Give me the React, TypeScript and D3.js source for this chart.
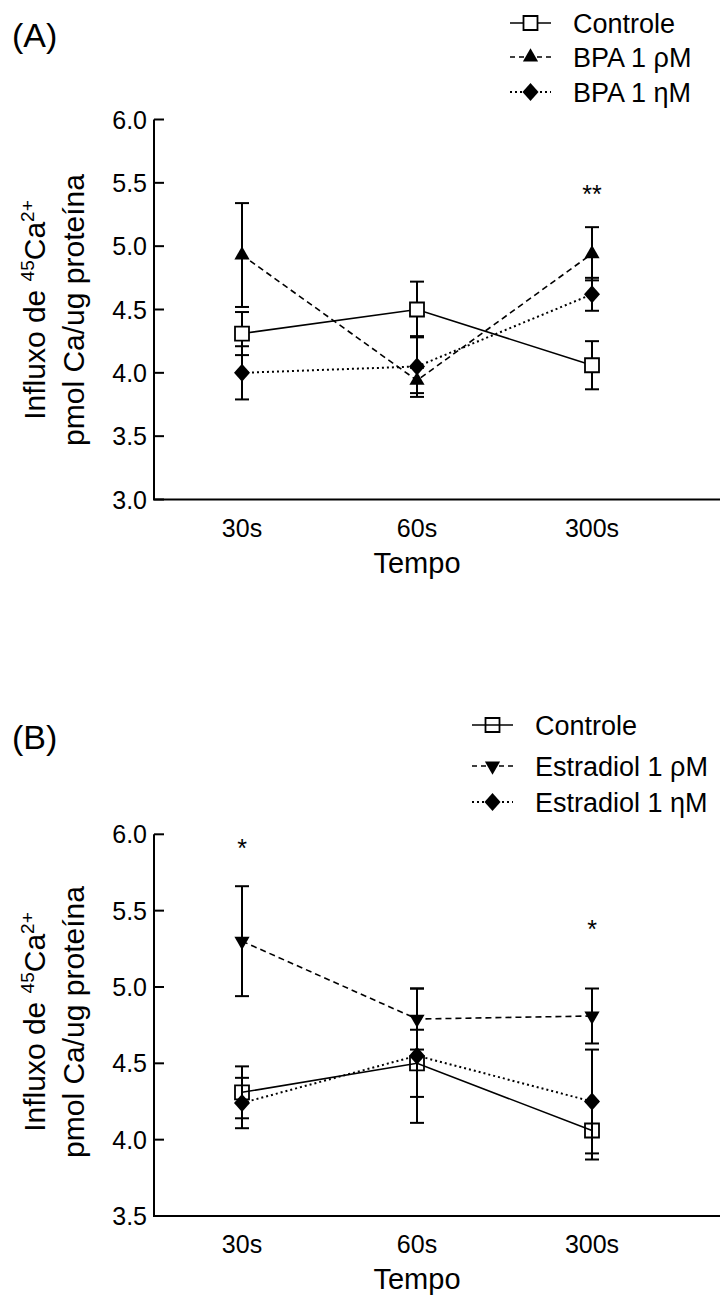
import React from "react";
import * as d3 from "d3";

const tempos = ["30s", "60s", "300s"];

const controleMean = [4.31, 4.5, 4.06];
const controleSem = [0.17, 0.22, 0.19];
const bpaPmMean = [4.93, 3.94, 4.94];
const bpaPmSem = [0.41, 0.1, 0.21];
const bpaNmMean = [4.0, 4.05, 4.62];
const bpaNmSem = [0.21, 0.24, 0.13];
const e2PmMean = [5.3, 4.79, 4.81];
const e2PmSem = [0.36, 0.2, 0.18];
const e2NmMean = [4.24, 4.55, 4.25];
const e2NmSem = [0.165, 0.44, 0.34];

const yTicksA = [3.0, 3.5, 4.0, 4.5, 5.0, 5.5, 6.0];
const yTicksB = [3.5, 4.0, 4.5, 5.0, 5.5, 6.0];
const starsA = ["", "", "**"];
const starsAt = [0, 0, 5.34];
const starsB = ["*", "", "*"];
const starsBt = [5.85, 0, 5.32];

const FONT = "'Liberation Sans', Arial, sans-serif";

type Marker = "square" | "up" | "down" | "diamond";

interface Series {
  name: string;
  mean: number[];
  sem: number[];
  marker: Marker;
  dash?: string;
}

const markerPath = (m: Marker) => {
  if (m === "square") return d3.symbol(d3.symbolSquare, 196)()!;
  if (m === "up" || m === "down") return d3.symbol(d3.symbolTriangle, 100)()!;
  return "M0,-9L8,0L0,9L-8,0Z";
};

function Mark({ m, x, y, fill }: { m: Marker; x: number; y: number; fill: string }) {
  const rot = m === "down" ? " rotate(180)" : "";
  return (
    <path
      d={markerPath(m)}
      transform={`translate(${x},${y})${rot}`}
      fill={m === "square" ? fill : "#000"}
      stroke="#000"
      strokeWidth={m === "square" ? 1.8 : 0}
    />
  );
}

interface PanelProps {
  label: string;
  series: Series[];
  yTicks: number[];
  yRange: [number, number];
  stars: string[];
  starVals: number[];
  squareFill: string;
  legendX: number;
  legendYs: number[];
  throughSquare: boolean;
  ylabelY: number;
  labelY: number;
}

function Panel(p: PanelProps) {
  const x = d3.scalePoint<string>().domain(tempos).range([242, 592]);
  const y = d3
    .scaleLinear()
    .domain([p.yTicks[0], p.yTicks[p.yTicks.length - 1]])
    .range(p.yRange);
  const axisX = 154;
  const bottom = p.yRange[0];
  const top = p.yRange[1];
  const line = d3
    .line<number>()
    .x((_, i) => x(tempos[i])!)
    .y(d => y(d));

  return (
    <g>
      <text x={12} y={p.labelY} fontSize={34} fontFamily={FONT}>
        {p.label}
      </text>

      {/* axes */}
      <line x1={axisX} x2={axisX} y1={top} y2={bottom} stroke="#000" strokeWidth={2} />
      <line x1={axisX - 1} x2={720} y1={bottom} y2={bottom} stroke="#000" strokeWidth={2} />
      {p.yTicks.map(t => (
        <g key={t}>
          <line x1={axisX} x2={axisX + 10} y1={y(t)} y2={y(t)} stroke="#000" strokeWidth={2} />
          <text
            x={147}
            y={y(t)}
            dy="0.36em"
            textAnchor="end"
            fontSize={25}
            fontFamily={FONT}
          >
            {t.toFixed(1)}
          </text>
        </g>
      ))}
      {tempos.map(t => (
        <text
          key={t}
          x={x(t)}
          y={bottom + 37}
          textAnchor="middle"
          fontSize={25}
          fontFamily={FONT}
        >
          {t}
        </text>
      ))}
      <text x={417} y={bottom + 73} textAnchor="middle" fontSize={29} fontFamily={FONT}>
        Tempo
      </text>

      {/* y label */}
      <g transform={`translate(0,${p.ylabelY})`} fontFamily={FONT}>
        <text transform="translate(45,0) rotate(-90)" textAnchor="middle" fontSize={30}>
          Influxo de{" "}
          <tspan dy={-11} fontSize={19}>
            45
          </tspan>
          <tspan dy={11}>Ca</tspan>
          <tspan dy={-11} fontSize={19}>
            2+
          </tspan>
        </text>
        <text transform="translate(84,0) rotate(-90)" textAnchor="middle" fontSize={30}>
          pmol Ca/ug proteína
        </text>
      </g>

      {/* lines */}
      {p.series.map(s => (
        <path
          key={s.name}
          d={line(s.mean)!}
          fill="none"
          stroke="#000"
          strokeWidth={s.dash === "2,3" ? 2 : 1.6}
          strokeDasharray={s.dash}
        />
      ))}

      {/* error bars */}
      {p.series.map(s =>
        s.mean.map((m, i) => {
          const cx = x(tempos[i])!;
          const y0 = y(m - s.sem[i]);
          const y1 = y(m + s.sem[i]);
          return (
            <g key={s.name + i} stroke="#000" strokeWidth={2}>
              <line x1={cx} x2={cx} y1={y0} y2={y1} />
              <line x1={cx - 7} x2={cx + 7} y1={y0} y2={y0} />
              <line x1={cx - 7} x2={cx + 7} y1={y1} y2={y1} />
            </g>
          );
        }),
      )}

      {/* markers */}
      {p.series.map(s =>
        s.mean.map((m, i) => (
          <Mark key={s.name + i} m={s.marker} x={x(tempos[i])!} y={y(m)} fill={p.squareFill} />
        )),
      )}

      {/* significance */}
      {p.stars.map((st, i) =>
        st ? (
          <text
            key={i}
            x={x(tempos[i])}
            y={y(p.starVals[i])}
            textAnchor="middle"
            fontSize={25}
            fontFamily={FONT}
          >
            {st}
          </text>
        ) : null,
      )}

      {/* legend */}
      {p.series.map((s, i) => {
        const lx = p.legendX;
        const ly = p.legendYs[i];
        return (
          <g key={s.name}>
            <line
              x1={lx}
              x2={lx + 41}
              y1={ly}
              y2={ly}
              stroke="#000"
              strokeWidth={s.dash === "2,3" ? 2 : 1.6}
              strokeDasharray={s.dash === "6,4" ? "5,4" : s.dash}
            />
            <Mark
              m={s.marker}
              x={lx + 20.5}
              y={ly}
              fill={s.marker === "square" && p.throughSquare ? "none" : "#fff"}
            />
            <text x={lx + 63} y={ly} dy="0.36em" fontSize={27} fontFamily={FONT}>
              {s.name}
            </text>
          </g>
        );
      })}
    </g>
  );
}

const seriesA: Series[] = [
  { name: "Controle", mean: controleMean, sem: controleSem, marker: "square" },
  { name: "BPA 1 ρM", mean: bpaPmMean, sem: bpaPmSem, marker: "up", dash: "6,4" },
  { name: "BPA 1 ηM", mean: bpaNmMean, sem: bpaNmSem, marker: "diamond", dash: "2,3" },
];

const seriesB: Series[] = [
  { name: "Controle", mean: controleMean, sem: controleSem, marker: "square" },
  { name: "Estradiol 1 ρM", mean: e2PmMean, sem: e2PmSem, marker: "down", dash: "6,4" },
  { name: "Estradiol 1 ηM", mean: e2NmMean, sem: e2NmSem, marker: "diamond", dash: "2,3" },
];

export default function App() {
  return (
    <svg
      width={720}
      height={1300}
      style={{ position: "absolute", left: 0, top: 0, background: "#fff" }}
    >
      <rect width={720} height={1300} fill="#fff" />
      <Panel
        label="(A)"
        series={seriesA}
        yTicks={yTicksA}
        yRange={[499.5, 119.5]}
        stars={starsA}
        starVals={starsAt}
        squareFill="#fff"
        legendX={510}
        legendYs={[23, 57, 92]}
        throughSquare={false}
        ylabelY={310}
        labelY={47}
      />
      <Panel
        label="(B)"
        series={seriesB}
        yTicks={yTicksB}
        yRange={[1216, 834.3]}
        stars={starsB}
        starVals={starsBt}
        squareFill="none"
        legendX={472}
        legendYs={[725, 766, 802]}
        throughSquare={true}
        ylabelY={1022}
        labelY={749}
      />
    </svg>
  );
}
